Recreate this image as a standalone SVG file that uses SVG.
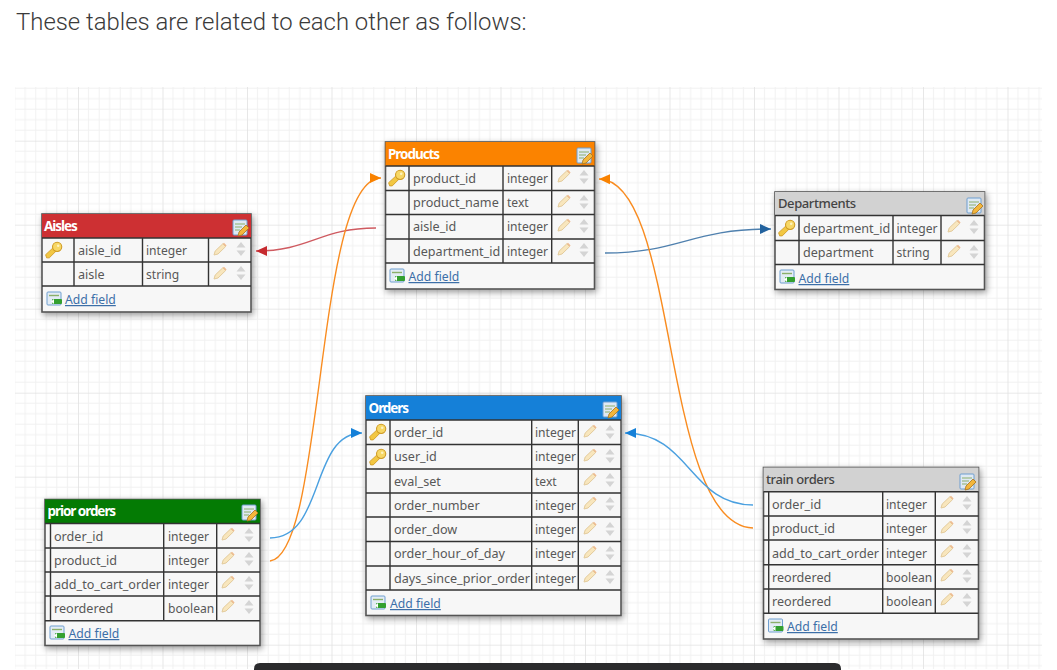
<svg xmlns="http://www.w3.org/2000/svg" width="1057" height="670" viewBox="0 0 1057 670">
<style>
.title{font:300 23.9px Roboto,"Liberation Sans",sans-serif;fill:#3a3a3a}
.hd{font:700 13.5px "Noto Sans","Liberation Sans",sans-serif;fill:#fff;letter-spacing:-1.05px}
.hdd{font:500 13px "Noto Sans","Liberation Sans",sans-serif;fill:#444;letter-spacing:-.4px}
.t{font:400 12.6px "Noto Sans","Liberation Sans",sans-serif;fill:#585858}
.y{font:400 12.1px "Noto Sans","Liberation Sans",sans-serif;fill:#585858}
.add{font:400 12.2px "Noto Sans","Liberation Sans",sans-serif;fill:#3c6fa8;text-decoration:underline}
.box{fill:#f7f7f7;stroke:#555;stroke-width:1.6;filter:url(#sh)}
.ln{stroke:#333;stroke-width:1.4;fill:none}
.c{fill:none;stroke-width:1.4}
.or{stroke:#f98c20}.bl{stroke:#4aa0e0}.db{stroke:#4f80ae}.rd{stroke:#cf5a60}
</style>
<defs>
<pattern id="grid" patternUnits="userSpaceOnUse" x="-6.5" y="56.7" width="84.5" height="84">
<path d="M10.56 0V84M21.12 0V84M31.68 0V84M42.25 0V84M52.8 0V84M63.37 0V84M73.93 0V84M0 10.5H84.5M0 21H84.5M0 31.5H84.5M0 42H84.5M0 52.5H84.5M0 63H84.5M0 73.5H84.5" stroke="#f1f1f1" stroke-width="1" fill="none"/>
<path d="M0 0V84M0 0H84.5" stroke="#e2e2e2" stroke-width="1.6" fill="none"/>
</pattern>
<filter id="sh" x="-10%" y="-10%" width="120%" height="125%"><feDropShadow dx="1.5" dy="2.5" stdDeviation="3" flood-color="#000" flood-opacity=".4"/></filter>
<marker id="mo" markerUnits="userSpaceOnUse" markerWidth="12" markerHeight="12" refX="11" refY="6" orient="auto"><path d="M0 1L11 6L0 11z" fill="#f98200"/></marker>
<marker id="mb" markerUnits="userSpaceOnUse" markerWidth="12" markerHeight="12" refX="11" refY="6" orient="auto"><path d="M0 1L11 6L0 11z" fill="#1580d8"/></marker>
<marker id="md" markerUnits="userSpaceOnUse" markerWidth="12" markerHeight="12" refX="11" refY="6" orient="auto"><path d="M0 1L11 6L0 11z" fill="#22629e"/></marker>
<marker id="mr" markerUnits="userSpaceOnUse" markerWidth="12" markerHeight="12" refX="11" refY="6" orient="auto"><path d="M0 1L11 6L0 11z" fill="#c62a2f"/></marker>
<g id="key"><g transform="scale(1.05)"><path d="M-7 7.500L-8 4.500L-1 -2L2 1L-4.500 7.500z" fill="#f2c743" stroke="#cf9a22" stroke-width=".8"/><circle cx="3" cy="-3" r="4.4" fill="#f7d765" stroke="#cf9a22" stroke-width="1"/><circle cx="4" cy="-4" r="1.2" fill="#fff3c0"/></g></g>
<g id="pen"><path d="M-6 6L-4.800 2L2.800 -5.200L5.600 -2.400L-2 5z" fill="#f8e6bd" stroke="#e3cb9c" stroke-width="1"/><path d="M2.800 -5.200L4 -6.200L6.600 -3.600L5.600 -2.400z" fill="#eebb90"/></g>
<g id="updn"><path d="M-4.500 -1.500L0 -7L4.500 -1.500zM-4.500 1.500L0 7L4.500 1.500z" fill="#d4d4d4"/></g>
<g id="ed"><rect x="0" y="0" width="14" height="15" rx="1" fill="#dfe9f4" stroke="#6f9fd0"/><path d="M2 4H12M2 7H9M2 10H7" stroke="#8cb06a" stroke-width="1.2"/><path d="M5 16L6 12L13 5L16 8L9 15z" fill="#f3b63c" stroke="#a8741c" stroke-width=".8"/></g>
<g id="adi"><rect x="0" y="0" width="14" height="13" rx="1" fill="#e3ecf5" stroke="#6f9fd0"/><path d="M2 3.500H12" stroke="#8cb06a" stroke-width="1.400"/><rect x="5" y="7" width="10" height="5" rx="1" fill="#34a030"/><path d="M4 9.500L7 7V12z" fill="#fff"/></g>
</defs>
<rect width="1057" height="670" fill="#fff"/>
<rect x="15" y="87" width="1027" height="582" fill="url(#grid)"/>
<text class="title" x="16" y="30">These tables are related to each other as follows:</text>

<g id="aisles">
<rect class="box" x="42" y="214" width="209" height="98"/>
<rect x="42" y="214" width="209" height="24" fill="#cd3033"/>
<path class="ln" d="M42 238H251M42 262H251M42 286H251M74 238V286M142.500 238V286M208.500 238V286"/>
<text class="hd" x="44" y="231">Aisles</text><use href="#ed" x="233" y="220"/>
<use href="#key" x="54" y="250"/>
<text class="t" x="78" y="254.500">aisle_id</text><text class="y" x="146" y="254.500">integer</text><use href="#pen" x="220" y="249"/><use href="#updn" x="241" y="249"/>
<text class="t" x="78" y="278.500">aisle</text><text class="y" x="146" y="278.500">string</text><use href="#pen" x="220" y="273"/><use href="#updn" x="241" y="273"/>
<use href="#adi" x="47" y="292"/><text class="add" x="65" y="304">Add field</text>
</g>

<g id="products">
<rect class="box" x="385.500" y="142" width="209" height="147"/>
<rect x="385.500" y="142" width="209" height="24" fill="#fb8300"/>
<path class="ln" d="M385.500 166H594.500M385.500 190.500H594.500M385.500 214.500H594.500M385.500 239H594.500M385.500 263H594.500M409 166V263M503 166V263M551.700 166V263"/>
<text class="hd" x="388" y="159">Products</text><use href="#ed" x="577" y="148"/>
<use href="#key" x="397" y="178"/>
<text class="t" x="413" y="182.500">product_id</text><text class="y" x="507" y="182.500">integer</text><use href="#pen" x="564" y="176"/><use href="#updn" x="584" y="177"/>
<text class="t" x="413" y="207">product_name</text><text class="y" x="507" y="207">text</text><use href="#pen" x="564" y="201"/><use href="#updn" x="584" y="202"/>
<text class="t" x="413" y="231">aisle_id</text><text class="y" x="507" y="231">integer</text><use href="#pen" x="564" y="225"/><use href="#updn" x="584" y="226"/>
<text class="t" x="413" y="255.500">department_id</text><text class="y" x="507" y="255.500">integer</text><use href="#pen" x="564" y="249"/><use href="#updn" x="584" y="250"/>
<use href="#adi" x="390" y="269"/><text class="add" x="408.500" y="281">Add field</text>
</g>

<g id="departments">
<rect class="box" x="775" y="192" width="209.500" height="97.500"/>
<rect x="775" y="192" width="209.500" height="23.500" fill="#d2d2d2"/>
<path class="ln" d="M775 215.500H984.500M775 240.500H984.500M775 264.500H984.500M799 215.500V264.500M893 215.500V264.500M941 215.500V264.500"/>
<text class="hdd" x="778" y="208">Departments</text><use href="#ed" x="967" y="198"/>
<use href="#key" x="787" y="228"/>
<text class="t" x="803" y="232.500">department_id</text><text class="y" x="896.500" y="232.500">integer</text><use href="#pen" x="954" y="226"/><use href="#updn" x="974" y="227"/>
<text class="t" x="803" y="257">department</text><text class="y" x="896.500" y="257">string</text><use href="#pen" x="954" y="251"/><use href="#updn" x="974" y="252"/>
<use href="#adi" x="780" y="270"/><text class="add" x="798.500" y="283">Add field</text>
</g>

<g id="orders">
<rect class="box" x="366" y="396" width="255" height="219.500"/>
<rect x="366" y="396" width="255" height="24" fill="#1580d8"/>
<path class="ln" d="M366 420H621M366 444.500H621M366 469H621M366 493H621M366 517H621M366 541.500H621M366 566H621M366 590H621M390 420V590M531.700 420V590M578.300 420V590"/>
<text class="hd" x="368.500" y="413">Orders</text><use href="#ed" x="603" y="402"/>
<use href="#key" x="378" y="432"/><use href="#key" x="378" y="457"/>
<text class="t" x="394" y="437">order_id</text><text class="y" x="535" y="437">integer</text><use href="#pen" x="590" y="431"/><use href="#updn" x="610" y="432"/>
<text class="t" x="394" y="461">user_id</text><text class="y" x="535" y="461">integer</text><use href="#pen" x="590" y="455"/><use href="#updn" x="610" y="456"/>
<text class="t" x="394" y="485.500">eval_set</text><text class="y" x="535" y="485.500">text</text><use href="#pen" x="590" y="479"/><use href="#updn" x="610" y="480"/>
<text class="t" x="394" y="509.500">order_number</text><text class="y" x="535" y="509.500">integer</text><use href="#pen" x="590" y="503"/><use href="#updn" x="610" y="504"/>
<text class="t" x="394" y="534">order_dow</text><text class="y" x="535" y="534">integer</text><use href="#pen" x="590" y="528"/><use href="#updn" x="610" y="529"/>
<text class="t" x="394" y="558">order_hour_of_day</text><text class="y" x="535" y="558">integer</text><use href="#pen" x="590" y="552"/><use href="#updn" x="610" y="553"/>
<text class="t" x="394" y="582.500">days_since_prior_order</text><text class="y" x="535" y="582.500">integer</text><use href="#pen" x="590" y="576"/><use href="#updn" x="610" y="577"/>
<use href="#adi" x="371" y="596"/><text class="add" x="390" y="608">Add field</text>
</g>

<g id="prior-orders">
<rect class="box" x="45" y="499.500" width="215" height="146"/>
<rect x="45" y="499.500" width="215" height="24" fill="#047b04"/>
<path class="ln" d="M45 523.500H260M45 548H260M45 572H260M45 596H260M45 620.700H260M50.500 523.500V620.700M163.700 523.500V620.700M216.700 523.500V620.700"/>
<text class="hd" x="47.500" y="516">prior orders</text><use href="#ed" x="242" y="505"/>
<text class="t" x="54" y="540.500">order_id</text><text class="y" x="168" y="540.500">integer</text><use href="#pen" x="228" y="534"/><use href="#updn" x="249" y="535"/>
<text class="t" x="54" y="565">product_id</text><text class="y" x="168" y="565">integer</text><use href="#pen" x="228" y="558"/><use href="#updn" x="249" y="559"/>
<text class="t" x="54" y="589">add_to_cart_order</text><text class="y" x="168" y="589">integer</text><use href="#pen" x="228" y="582"/><use href="#updn" x="249" y="583"/>
<text class="t" x="54" y="613">reordered</text><text class="y" x="168" y="613">boolean</text><use href="#pen" x="228" y="606"/><use href="#updn" x="249" y="607"/>
<use href="#adi" x="50" y="626"/><text class="add" x="68.500" y="638">Add field</text>
</g>

<g id="train-orders">
<rect class="box" x="763.500" y="467.500" width="215" height="171.500"/>
<rect x="763.500" y="467.500" width="215" height="24" fill="#d2d2d2"/>
<path class="ln" d="M763.500 491.700H978.500M763.500 516H978.500M763.500 540H978.500M763.500 564.700H978.500M763.500 589H978.500M763.500 613.300H978.500M768.700 491.700V613.300M882.700 491.700V613.300M935.300 491.700V613.300"/>
<text class="hdd" x="766" y="484">train orders</text><use href="#ed" x="960" y="474"/>
<text class="t" x="772" y="509">order_id</text><text class="y" x="886" y="509">integer</text><use href="#pen" x="947" y="502"/><use href="#updn" x="967" y="503"/>
<text class="t" x="772" y="533">product_id</text><text class="y" x="886" y="533">integer</text><use href="#pen" x="947" y="527"/><use href="#updn" x="967" y="527"/>
<text class="t" x="772" y="557.500">add_to_cart_order</text><text class="y" x="886" y="557.500">integer</text><use href="#pen" x="947" y="551"/><use href="#updn" x="967" y="551"/>
<text class="t" x="772" y="581.500">reordered</text><text class="y" x="886" y="581.500">boolean</text><use href="#pen" x="947" y="575"/><use href="#updn" x="967" y="576"/>
<text class="t" x="772" y="606">reordered</text><text class="y" x="886" y="606">boolean</text><use href="#pen" x="947" y="599"/><use href="#updn" x="967" y="600"/>
<use href="#adi" x="768.500" y="619"/><text class="add" x="787" y="631">Add field</text>
</g>

<g id="connectors">
<path class="c rd" marker-end="url(#mr)" d="M376 228C320 228 310 251 256 251"/>
<path class="c db" marker-end="url(#md)" d="M605 253C680 253 690 229 771 229"/>
<path class="c or" marker-end="url(#mo)" d="M270 561C325 555 315 178 381 178"/>
<path class="c bl" marker-end="url(#mb)" d="M270 538C325 538 310 433 362 433"/>
<path class="c or" marker-end="url(#mo)" d="M753 528C660 525 680 180 599 179"/>
<path class="c bl" marker-end="url(#mb)" d="M753 505C690 505 690 433 625 433"/>
</g>
<path d="M254 670V669Q254 663 260 663H835Q841 663 841 669V670z" fill="#2b2b2d"/>
</svg>
